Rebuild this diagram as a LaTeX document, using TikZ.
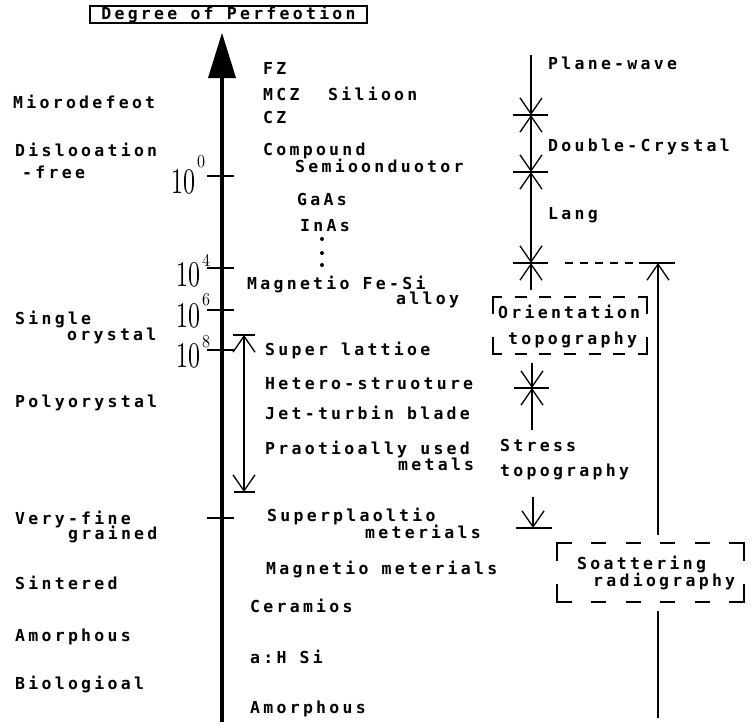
\documentclass[tikz,border=0pt]{standalone}
\usepackage{fontspec}
\newfontfamily\pf[LetterSpace=19.8]{DejaVu Sans Mono}
\usetikzlibrary{arrows.meta}
\newcommand\brkbox[8]{%
  \pgfmathsetmacro\bxa{#1+#5}\pgfmathsetmacro\bxb{#3-#5}%
  \pgfmathsetmacro\bxg{(\bxb-\bxa-#7*#8)/(#7+1)}%
  \draw[thin line] (#1+#5,#2) -| (#1,#2+#6);
  \draw[thin line] (#3-#5,#2) -| (#3,#2+#6);
  \draw[thin line] (#1+#5,#4) -| (#1,#4-#6);
  \draw[thin line] (#3-#5,#4) -| (#3,#4-#6);
  \draw[thin line,dash pattern=on #8pt off \bxg pt] (\bxa+\bxg,#2) -- (\bxb-\bxg,#2);
  \draw[thin line,dash pattern=on #8pt off \bxg pt] (\bxa+\bxg,#4) -- (\bxb-\bxg,#4);
}
\tikzset{
  lbl/.style={anchor=base west, inner sep=0pt, font=\pf\bfseries\fontsize{16.5}{16.5}\selectfont},
  thin line/.style={line width=1.3pt},
  barb/.tip={Straight Barb[length=16pt,width=22pt]},
  rng/.style={thin line, barb-barb},
  tenlbl/.style={anchor=base east, inner sep=0pt},
  explbl/.style={anchor=base west, inner sep=0pt},
  tick/.style={line width=1.5pt},
}
\newcommand\ten{\resizebox{24pt}{24pt}{10}}
\newcommand\expo[1]{\resizebox{8pt}{12pt}{#1}}
\begin{document}
\begin{tikzpicture}[x=1pt,y=-1pt]
\useasboundingbox (0,0) rectangle (754,726);
% title
\node[draw, thin line, inner sep=0pt, minimum width=277pt, minimum height=17pt, font=\pf\bfseries\fontsize{16.5}{16.5}\selectfont] (title) at (228.5,14.5) {Degree of Perfeotion};
% main axis
\coordinate (axbot) at (222,722);
\coordinate (axtop) at (222,76);
\draw[line width=4.5pt] (axbot) -- (axtop);
\fill (208,78) -- (222,33) -- (236,78) -- cycle;
% ticks
\foreach \ty in {176,268,310,350,518}{
  \draw[tick] (207,\ty) -- (234,\ty);
}
\node[tenlbl] (ten0) at (196,193) {\ten};
\node[explbl] (e0) at (197,167) {\expo{0}};
\node[tenlbl] (ten4) at (201,286) {\ten};
\node[explbl] (e4) at (202,266) {\expo{4}};
\node[tenlbl] (ten6) at (201,327) {\ten};
\node[explbl] (e6) at (202,305) {\expo{6}};
\node[tenlbl] (ten8) at (201,367) {\ten};
\node[explbl] (e8) at (202,347) {\expo{8}};
% left column
\node[lbl] (mic) at (13,108) {Miorodefeot};
\node[lbl] (dis) at (15,156) {Dislooation};
\node[lbl] (free) at (22,178) {-free};
\node[lbl] (sing) at (15,324) {Single};
\node[lbl] (orys) at (67,340) {orystal};
\node[lbl] (poly) at (15,407) {Polyorystal};
\node[lbl] (very) at (15,524) {Very-fine};
\node[lbl] (grain) at (68,539) {grained};
\node[lbl] (sint) at (15,589) {Sintered};
\node[lbl] (amor1) at (15,641) {Amorphous};
\node[lbl] (bio) at (15,689) {Biologioal};
% middle column
\node[lbl] (fz) at (263,74) {FZ};
\node[lbl] (mcz) at (263,100) {MCZ};
\node[lbl] (sil) at (328,100) {Silioon};
\node[lbl] (cz) at (263,123) {CZ};
\node[lbl] (comp) at (263,155) {Compound};
\node[lbl] (semi) at (295,172) {Semioonduotor};
\node[lbl] (gaas) at (297,205) {GaAs};
\node[lbl] (inas) at (300,231) {InAs};
\foreach \dy in {239,253,265}{\fill (322,\dy) circle (2pt);}
\node[lbl] (mag) at (247,289) {Magnetio Fe-Si};
\node[lbl] (alloy) at (396,304) {alloy};
\node[lbl] (super) at (265,355) {Super lattioe};
\node[lbl] (hetero) at (265,389) {Hetero-struoture};
\node[lbl] (jet) at (265,419) {Jet-turbin blade};
\node[lbl] (prac) at (265,454) {Praotioally used};
\node[lbl] (metals) at (398,470) {metals};
\node[lbl] (splast) at (267,521) {Superplaoltio};
\node[lbl] (mater) at (365,538) {meterials};
\node[lbl] (magm) at (266,574) {Magnetio meterials};
\node[lbl] (cera) at (250,612) {Ceramios};
\node[lbl] (ahsi) at (250,663) {a:H Si};
\node[lbl] (amor2) at (250,713) {Amorphous};
% left double arrow
\coordinate (la1) at (244,335);
\coordinate (la2) at (244,492);
\draw[rng] (la1) -- (la2);
\draw[thin line] (233,335) -- (255,335);
\draw[thin line] (234,492) -- (255,492);
% right column
\node[lbl] (plane) at (548,69) {Plane-wave};
\node[lbl] (dbl) at (548,151) {Double-Crystal};
\node[lbl] (lang) at (548,219) {Lang};
\node[lbl] (orient) at (498,318) {Orientation};
\node[lbl] (topo1) at (508,344) {topography};
\node[lbl] (stress) at (500,451) {Stress};
\node[lbl] (topo2) at (500,476) {topography};
\node[lbl] (scat) at (577,569) {Soattering};
\node[lbl] (radio) at (593,586) {radiography};
\coordinate (r0) at (531,55);
\coordinate (s1) at (531,115);
\coordinate (s2) at (531,172);
\coordinate (s3) at (531,263);
\coordinate (r3) at (531,290);
\coordinate (r4a) at (532,363);
\coordinate (s4) at (532,388);
\coordinate (r4b) at (532,430);
\coordinate (d1) at (533,497);
\coordinate (d2) at (533,528);
\draw[thin line,-barb] (r0) -- (s1);
\draw[rng] (s1) -- (s2);
\draw[rng] (s2) -- (s3);
\draw[thin line,barb-] (s3) -- (r3);
\draw[thin line,-barb] (r4a) -- (s4);
\draw[thin line,barb-] (s4) -- (r4b);
\draw[thin line,-barb] (d1) -- (d2);
\foreach \c in {s1,s2,s3,s4}{\draw[thin line] ([xshift=-18pt]\c) -- ([xshift=17pt]\c);}
\draw[thin line] (516,528) -- (552,528);
% dashed link and up arrow
\draw[thin line,dash pattern=on 8pt off 7pt] (565,263) -- (633,263);
\coordinate (u1) at (658,535);
\coordinate (u2) at (658,263);
\draw[thin line,-barb] (u1) -- (u2);
\draw[thin line] (639,263) -- (675,263);
\coordinate (u3) at (658,611);
\coordinate (u4) at (658,718);
\draw[thin line] (u3) -- (u4);
% bracket boxes
\brkbox{493}{297}{647}{354}{9}{17}{5}{12}
\brkbox{557}{543}{744}{602}{15}{18}{4}{15}
\end{tikzpicture}
\end{document}
